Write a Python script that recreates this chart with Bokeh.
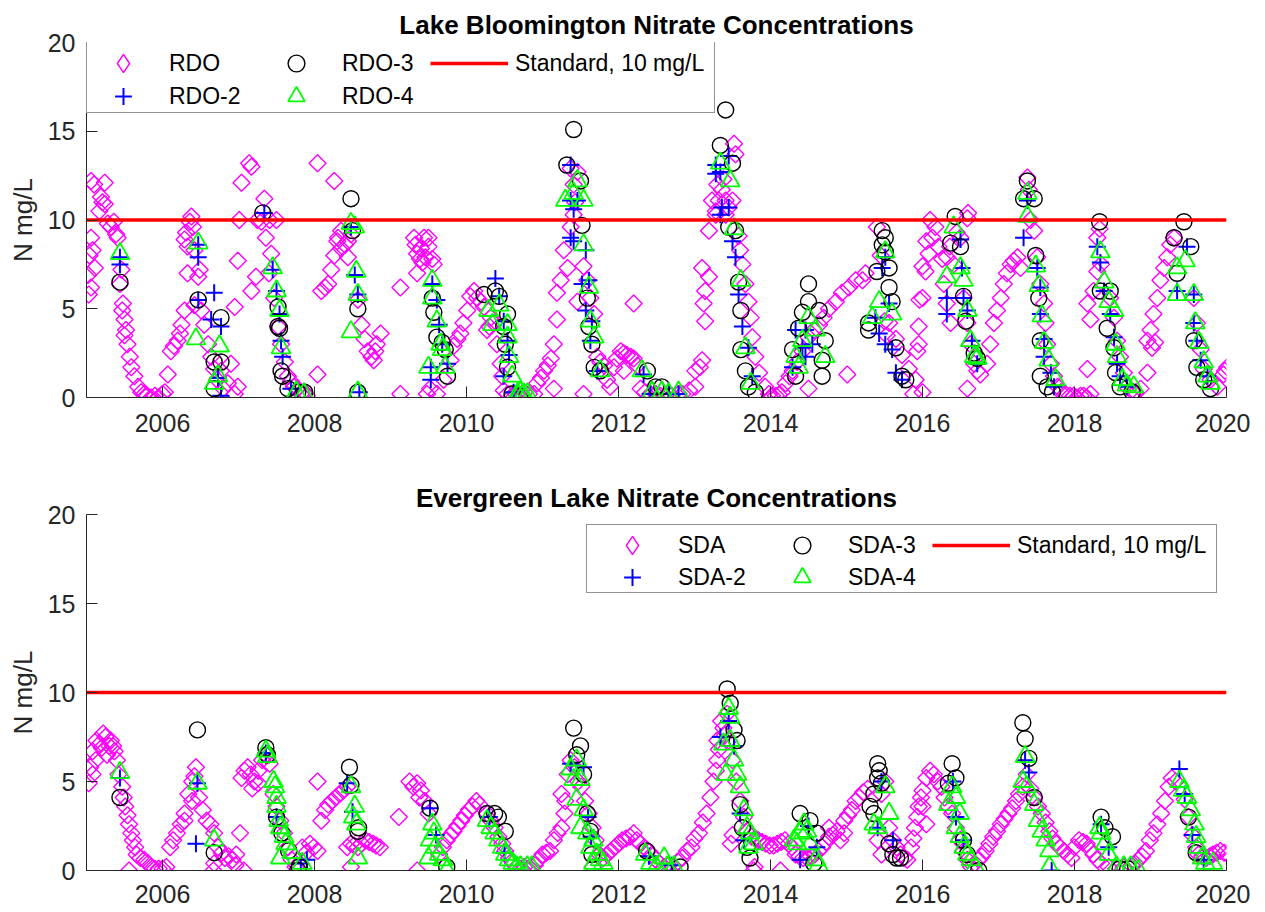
import math
from bokeh.plotting import figure
from bokeh.layouts import column
from bokeh.models import Range1d, FixedTicker, Legend, LegendItem
from bokeh.embed import file_html
from bokeh.resources import INLINE

# ---------------- data ----------------
years_range = (2005.0, 2020.0)
n_range = (0, 20)
year_ticks = [2006, 2008, 2010, 2012, 2014, 2016, 2018, 2020]
year_labels = ["2006", "2008", "2010", "2012", "2014", "2016", "2018", "2020"]
n_ticks = [0, 5, 10, 15, 20]
standard_value = 10
standard_label = "Standard, 10 mg/L"
y_label = "N mg/L"

top_title = "Lake Bloomington Nitrate Concentrations"
bottom_title = "Evergreen Lake Nitrate Concentrations"
top_names = ["RDO", "RDO-2", "RDO-3", "RDO-4"]
bottom_names = ["SDA", "SDA-2", "SDA-3", "SDA-4"]

# Lake Bloomington (year, N mg/L)
rdo = [
    (2005.02, 6.9), (2005.04, 8.0), (2005.06, 12.2), (2005.06, 9.0), (2005.08, 8.3), (2005.11, 7.3),
    (2005.06, 6.2), (2005.03, 5.8), (2005.10, 12.0), (2005.19, 11.3), (2005.24, 12.1), (2005.24, 10.9),
    (2005.17, 10.5), (2005.21, 11.0), (2005.28, 9.8), (2005.32, 9.6), (2005.36, 9.9), (2005.39, 9.2),
    (2005.41, 9.0), (2005.44, 6.4), (2005.46, 7.2), (2005.47, 4.9), (2005.48, 5.3), (2005.50, 4.4),
    (2005.50, 3.5), (2005.52, 3.8), (2005.54, 3.0), (2005.57, 2.3), (2005.59, 1.7), (2005.63, 1.2),
    (2005.68, 0.6), (2005.72, 0.3), (2005.76, 0.2), (2005.80, 0.1), (2005.85, 0.0), (2005.90, 0.1),
    (2005.95, 0.0), (2006.00, 0.2), (2006.03, 0.3),
    (2006.07, 1.3), (2006.11, 2.6), (2006.15, 2.9), (2006.20, 3.2), (2006.23, 3.6), (2006.25, 4.1),
    (2006.29, 4.9), (2006.33, 7.0), (2006.29, 8.9), (2006.31, 9.3), (2006.38, 10.2), (2006.40, 9.6),
    (2006.36, 9.9), (2006.33, 8.5), (2006.42, 8.3), (2006.49, 7.2), (2006.47, 6.8), (2006.42, 5.2),
    (2006.51, 4.9), (2006.55, 4.1), (2006.60, 3.0), (2006.64, 2.3), (2006.68, 1.6), (2006.77, 1.5),
    (2006.90, 1.9), (2006.86, 0.8), (2006.95, 0.2), (2006.99, 0.6), (2006.72, 1.0), (2006.80, 0.5),
    (2006.95, 5.1), (2006.99, 7.7), (2007.01, 10.0), (2007.04, 12.1), (2007.14, 13.2), (2007.17, 13.0),
    (2007.17, 6.0), (2007.23, 6.8),
    (2007.34, 11.2), (2007.25, 10.0), (2007.30, 9.9), (2007.41, 10.0), (2007.50, 10.0), (2007.36, 9.0),
    (2007.43, 8.1), (2007.40, 7.0), (2007.47, 5.6), (2007.52, 4.0), (2007.56, 3.0), (2007.61, 2.0),
    (2007.65, 1.2), (2007.69, 0.9), (2007.73, 0.6), (2007.78, 0.5), (2007.82, 0.2), (2007.87, 0.3),
    (2007.90, 0.1), (2008.04, 13.2), (2008.26, 12.2), (2008.04, 1.3),
    (2008.09, 6.0), (2008.14, 6.2), (2008.18, 6.4), (2008.22, 7.2), (2008.26, 8.0), (2008.31, 9.0),
    (2008.35, 9.4), (2008.40, 8.6), (2008.44, 8.8), (2008.48, 9.2), (2008.35, 8.4), (2008.44, 7.9),
    (2008.30, 8.8), (2008.57, 5.5), (2008.62, 4.1), (2008.66, 3.3), (2008.70, 2.6), (2008.75, 2.3),
    (2008.78, 2.1), (2008.82, 3.0), (2008.87, 3.6), (2008.80, 2.6),
    (2009.13, 6.2), (2009.13, 0.2), (2009.31, 9.0), (2009.44, 9.0), (2009.50, 9.0), (2009.35, 8.1),
    (2009.39, 7.8), (2009.46, 7.9), (2009.35, 7.0), (2009.50, 8.5), (2009.55, 7.8), (2009.57, 7.5),
    (2009.40, 8.4), (2009.42, 7.6), (2009.33, 8.6), (2009.48, 0.2), (2009.61, 0.2), (2009.52, 0.5),
    (2009.70, 1.0), (2009.79, 2.1), (2009.83, 2.9), (2009.88, 3.3), (2009.92, 3.6), (2009.96, 4.2),
    (2010.01, 4.9), (2010.05, 5.7), (2010.10, 6.0), (2010.14, 5.6),
    (2010.23, 5.1), (2010.32, 4.5), (2010.27, 3.8), (2010.30, 4.0), (2010.40, 3.0), (2010.36, 4.2),
    (2010.19, 5.4), (2010.45, 1.9), (2010.47, 1.2), (2010.49, 0.4), (2010.54, 0.2), (2010.60, 0.1),
    (2010.65, 0.2), (2010.70, 0.1), (2010.76, 0.3), (2010.82, 0.2), (2010.89, 0.2),
    (2010.93, 0.8), (2010.98, 1.1), (2011.02, 1.5), (2011.07, 1.8), (2011.11, 2.2), (2011.15, 3.0),
    (2011.19, 4.4), (2011.19, 5.9), (2011.24, 6.6), (2011.33, 7.3), (2011.28, 8.3), (2011.37, 9.6),
    (2011.41, 10.3), (2011.37, 12.9), (2011.46, 12.7), (2011.41, 12.0), (2011.43, 11.0),
    (2011.54, 7.4), (2011.59, 6.6), (2011.46, 5.4), (2011.63, 5.6), (2011.68, 4.7), (2011.15, 0.5),
    (2011.54, 0.2), (2011.72, 2.3), (2011.76, 2.0), (2011.81, 1.8), (2011.85, 1.0), (2011.89, 0.6),
    (2012.20, 5.3), (2011.98, 2.2), (2012.03, 2.6), (2012.07, 2.5), (2012.11, 2.4), (2012.16, 2.3),
    (2012.20, 2.2), (2012.25, 1.8), (2012.07, 1.5), (2011.94, 1.7),
    (2012.29, 0.5), (2012.35, 0.3), (2012.42, 0.2), (2012.49, 0.2), (2012.55, 0.1), (2012.62, 0.1),
    (2012.70, 0.1), (2012.79, 0.2), (2012.84, 0.2), (2012.93, 0.4), (2013.01, 0.6),
    (2013.01, 1.5), (2013.07, 1.7), (2013.10, 2.1), (2013.10, 7.3), (2013.19, 6.8), (2013.12, 5.3),
    (2013.14, 4.3), (2013.14, 6.0), (2013.19, 9.4), (2013.23, 11.1), (2013.28, 10.5), (2013.32, 11.1),
    (2013.36, 11.7), (2013.41, 11.1), (2013.45, 10.7), (2013.50, 11.1), (2013.52, 14.3), (2013.54, 13.7),
    (2013.41, 10.3), (2013.28, 10.3), (2013.38, 12.3), (2013.30, 12.0),
    (2013.58, 9.1), (2013.60, 8.3), (2013.63, 7.5), (2013.67, 6.4), (2013.71, 5.4), (2013.74, 4.5),
    (2013.76, 3.4), (2013.80, 2.3), (2013.85, 1.4), (2013.93, 0.6), (2013.98, 0.2), (2014.02, 0.1),
    (2014.07, 0.1), (2014.11, 0.15), (2014.15, 0.3),
    (2014.20, 0.8), (2014.25, 1.2), (2014.29, 1.5), (2014.35, 2.0), (2014.42, 2.6), (2014.50, 3.4),
    (2014.57, 3.8), (2014.64, 4.1), (2014.70, 4.5), (2014.77, 5.0), (2014.86, 5.4), (2014.94, 5.9),
    (2015.03, 6.2), (2015.12, 6.6), (2015.21, 6.6), (2015.25, 7.0), (2014.50, 0.5), (2015.01, 1.3),
    (2015.40, 9.6), (2015.45, 8.0), (2015.50, 4.3), (2015.53, 3.5), (2015.56, 4.2), (2015.65, 3.3),
    (2015.73, 2.4), (2015.82, 1.6), (2015.88, 0.2), (2015.91, 1.0), (2016.00, 0.3),
    (2015.93, 2.6), (2015.95, 4.0), (2015.96, 5.5), (2015.95, 3.0),
    (2016.00, 5.6), (2016.04, 7.1), (2016.08, 8.1), (2016.13, 9.0), (2016.17, 9.6), (2016.21, 8.5),
    (2016.26, 7.8), (2016.00, 7.4), (2016.10, 10.0), (2016.05, 8.8),
    (2016.59, 10.1), (2016.50, 9.0), (2016.32, 7.9), (2016.41, 7.5), (2016.28, 6.4), (2016.32, 5.3),
    (2016.37, 4.2), (2016.45, 9.3), (2016.36, 8.5), (2016.60, 10.4),
    (2016.54, 5.6), (2016.59, 4.2), (2016.63, 3.0), (2016.68, 1.9), (2016.72, 1.5), (2016.76, 1.3),
    (2016.59, 0.5),
    (2016.85, 1.9), (2016.89, 3.0), (2016.94, 4.2), (2016.98, 4.9), (2017.03, 5.6), (2017.07, 6.4),
    (2017.11, 7.0), (2017.16, 7.5), (2017.20, 7.7), (2017.25, 7.9), (2017.29, 7.3),
    (2017.38, 12.4), (2017.40, 11.7), (2017.42, 10.0), (2017.47, 9.4),
    (2017.51, 7.9), (2017.55, 6.4), (2017.60, 5.3), (2017.62, 4.2), (2017.64, 3.0), (2017.69, 1.9),
    (2017.73, 1.2), (2017.78, 0.6), (2017.82, 0.3), (2017.88, 0.2), (2017.94, 0.1), (2017.99, 0.1),
    (2018.03, 0.0), (2018.08, 0.1), (2018.12, 0.1), (2018.16, 0.0), (2018.21, 0.2), (2018.17, 1.6),
    (2018.21, 4.4), (2018.17, 5.3), (2018.25, 6.0), (2018.30, 7.1), (2018.30, 9.0), (2018.33, 9.5),
    (2018.35, 7.5), (2018.47, 5.6), (2018.52, 4.5), (2018.56, 3.2), (2018.60, 2.3), (2018.65, 1.4),
    (2018.69, 0.6), (2018.75, 0.4), (2018.80, 0.3), (2018.87, 0.5), (2018.96, 1.4),
    (2018.96, 3.2), (2019.00, 3.8), (2019.04, 4.7), (2019.09, 5.6), (2019.13, 6.6), (2019.18, 7.3),
    (2019.22, 7.9), (2019.26, 8.6), (2019.31, 9.0), (2019.02, 2.8), (2019.06, 3.1),
    (2019.57, 5.6), (2019.61, 4.2), (2019.66, 2.7), (2019.70, 1.6), (2019.79, 1.0), (2019.88, 0.6),
    (2019.96, 1.3), (2020.01, 1.7), (2019.98, 1.5),
]

rdo2 = [
    (2005.44, 7.5), (2005.44, 7.9),
    (2006.47, 8.6), (2006.47, 7.9), (2006.47, 5.5), (2006.68, 5.9), (2006.64, 4.4), (2006.77, 4.0),
    (2006.73, 1.1), (2006.77, 0.1),
    (2007.34, 10.4), (2007.45, 7.2), (2007.50, 6.0), (2007.54, 4.7), (2007.56, 3.2), (2007.58, 2.3),
    (2007.69, 0.5),
    (2008.48, 9.6), (2008.53, 6.9), (2008.57, 5.8), (2008.59, 0.3),
    (2009.55, 6.4), (2009.61, 5.5), (2009.64, 4.1), (2009.68, 3.0), (2009.53, 1.7), (2009.53, 1.0),
    (2009.75, 1.9),
    (2010.38, 6.7), (2010.43, 5.7), (2010.49, 4.3), (2010.54, 3.2), (2010.56, 2.4), (2010.49, 1.2),
    (2010.62, 0.3),
    (2011.37, 13.1), (2011.37, 11.1), (2011.46, 11.1), (2011.41, 10.6), (2011.37, 9.0), (2011.41, 8.8),
    (2011.57, 8.3), (2011.61, 6.6), (2011.52, 6.4), (2011.57, 4.9), (2011.65, 4.3), (2011.63, 3.2),
    (2011.72, 1.5),
    (2012.33, 1.3), (2012.42, 0.2), (2012.66, 0.2), (2012.79, 0.2),
    (2013.28, 13.1), (2013.34, 12.7), (2013.45, 13.6), (2013.28, 12.6), (2013.36, 10.7), (2013.45, 10.7),
    (2013.34, 10.3), (2013.50, 8.8), (2013.54, 7.9), (2013.58, 5.8), (2013.63, 4.0), (2013.71, 2.8),
    (2013.76, 1.2),
    (2014.33, 3.8), (2014.42, 2.8), (2014.46, 2.3), (2014.46, 3.8), (2014.55, 3.0), (2014.29, 1.7),
    (2015.47, 7.3), (2015.51, 7.9), (2015.56, 5.3), (2015.43, 3.6), (2015.38, 4.5), (2015.51, 3.0),
    (2015.60, 2.7), (2015.65, 1.4), (2015.73, 1.0),
    (2016.32, 5.6), (2016.32, 4.7), (2016.50, 8.9), (2016.52, 7.3), (2016.54, 5.6), (2016.59, 4.9),
    (2016.65, 3.2), (2016.72, 1.9),
    (2017.38, 11.1), (2017.33, 9.0), (2017.51, 7.3), (2017.55, 6.2), (2017.55, 4.7), (2017.60, 3.3),
    (2017.60, 2.3), (2017.69, 1.4), (2017.73, 0.6),
    (2018.30, 8.5), (2018.34, 7.6), (2018.39, 6.0), (2018.47, 4.7), (2018.52, 3.4), (2018.56, 1.9),
    (2018.60, 1.2), (2018.69, 0.6),
    (2019.48, 8.5), (2019.35, 6.0), (2019.57, 5.8), (2019.57, 4.2), (2019.61, 3.2), (2019.66, 2.1),
    (2019.75, 1.2),
]

rdo3 = [
    (2005.44, 6.5),
    (2006.47, 5.5), (2006.77, 4.5), (2006.68, 2.0), (2006.77, 2.0), (2006.68, 0.5),
    (2007.32, 10.4), (2007.52, 5.1), (2007.52, 4.0), (2007.54, 3.9), (2007.56, 1.5), (2007.58, 1.2),
    (2007.65, 0.5), (2007.78, 0.3), (2007.87, 0.3),
    (2008.48, 11.2), (2008.50, 9.4), (2008.57, 5.0), (2008.57, 0.3),
    (2009.55, 5.6), (2009.57, 4.8), (2009.61, 3.4), (2009.68, 3.1), (2009.72, 2.7), (2009.75, 1.2),
    (2010.23, 5.8), (2010.38, 6.0), (2010.43, 5.7), (2010.54, 4.7), (2010.49, 4.0), (2010.51, 3.0),
    (2010.54, 1.7), (2010.60, 0.2), (2010.70, 0.1),
    (2011.32, 13.1), (2011.41, 15.1), (2011.50, 12.2), (2011.52, 9.7), (2011.59, 5.6), (2011.61, 4.0),
    (2011.65, 3.0), (2011.68, 1.7), (2011.76, 1.5),
    (2012.38, 1.5), (2012.49, 0.6), (2012.57, 0.6),
    (2013.41, 16.2), (2013.34, 14.2), (2013.50, 13.2), (2013.45, 9.6), (2013.54, 9.4), (2013.58, 6.5),
    (2013.61, 4.9), (2013.61, 2.7), (2013.67, 1.5), (2013.71, 0.6), (2013.80, 0.3),
    (2014.50, 6.4), (2014.50, 5.4), (2014.42, 4.8), (2014.37, 3.9), (2014.29, 2.7), (2014.33, 1.2),
    (2014.64, 4.9), (2014.72, 3.2), (2014.68, 2.1), (2014.68, 1.2),
    (2015.47, 9.4), (2015.51, 9.0), (2015.47, 8.6), (2015.51, 8.2), (2015.56, 7.3), (2015.40, 7.1),
    (2015.56, 6.2), (2015.60, 5.4), (2015.29, 4.2), (2015.29, 3.8), (2015.65, 2.8), (2015.73, 1.2),
    (2015.78, 1.0),
    (2016.43, 10.2), (2016.37, 8.7), (2016.50, 8.5), (2016.54, 5.7), (2016.57, 4.3), (2016.68, 2.5),
    (2016.72, 2.2),
    (2017.38, 12.2), (2017.33, 11.2), (2017.47, 11.2), (2017.49, 8.0), (2017.53, 5.6), (2017.55, 3.2),
    (2017.55, 1.2), (2017.64, 0.6), (2017.71, 0.3),
    (2018.33, 9.9), (2018.34, 6.0), (2018.47, 6.0), (2018.43, 3.9), (2018.52, 2.8), (2018.54, 1.4),
    (2018.60, 0.6), (2018.76, 0.3),
    (2019.44, 9.9), (2019.31, 9.0), (2019.53, 8.5), (2019.35, 7.0), (2019.57, 3.2), (2019.61, 1.7),
    (2019.70, 1.0), (2019.79, 0.5),
]

rdo4 = [
    (2005.44, 8.1),
    (2006.47, 8.7), (2006.44, 3.3), (2006.75, 2.9), (2006.73, 1.2), (2006.68, 0.8),
    (2007.45, 7.3), (2007.50, 6.0), (2007.54, 4.9), (2007.56, 2.8), (2007.76, 0.3), (2007.86, 0.2),
    (2008.48, 9.8), (2008.53, 9.6), (2008.55, 7.1), (2008.57, 5.8), (2008.48, 3.7), (2008.57, 0.3),
    (2009.55, 6.6), (2009.55, 5.6), (2009.61, 4.3), (2009.66, 3.0), (2009.50, 1.7), (2009.72, 1.7),
    (2009.68, 2.7),
    (2010.29, 4.9), (2010.43, 5.2), (2010.34, 4.1), (2010.54, 4.1), (2010.54, 3.4), (2010.56, 2.3),
    (2010.60, 1.2), (2010.67, 0.2), (2010.75, 0.2), (2010.80, 0.2), (2010.71, 0.3),
    (2011.46, 12.2), (2011.41, 11.5), (2011.30, 11.1), (2011.54, 11.1), (2011.54, 8.6), (2011.61, 6.2),
    (2011.63, 4.3), (2011.68, 3.4), (2011.76, 1.5),
    (2012.31, 1.5), (2012.44, 0.3), (2012.57, 0.3), (2012.66, 0.2), (2012.79, 0.3),
    (2013.34, 13.2), (2013.47, 12.2), (2013.52, 9.5), (2013.61, 6.6), (2013.67, 2.8), (2013.74, 0.8),
    (2014.50, 4.5), (2014.42, 3.2), (2014.33, 2.3), (2014.37, 1.7), (2014.59, 3.8), (2014.72, 2.3),
    (2015.51, 8.2), (2015.43, 5.4), (2015.34, 4.5), (2015.60, 4.7),
    (2016.41, 9.6), (2016.50, 7.3), (2016.32, 6.8), (2016.54, 6.6), (2016.59, 4.9), (2016.63, 3.2),
    (2016.68, 2.3), (2016.72, 2.2),
    (2017.38, 11.5), (2017.38, 10.2), (2017.49, 7.4), (2017.53, 6.3), (2017.57, 4.6), (2017.60, 3.1),
    (2017.66, 2.1), (2017.75, 1.0),
    (2018.34, 8.2), (2018.39, 6.5), (2018.45, 5.4), (2018.52, 4.9), (2018.54, 3.0), (2018.56, 2.3),
    (2018.63, 1.0), (2018.69, 0.7), (2018.78, 0.6),
    (2019.46, 7.7), (2019.35, 7.3), (2019.35, 5.8), (2019.57, 5.8), (2019.59, 4.2), (2019.64, 3.1),
    (2019.70, 2.0), (2019.75, 1.2), (2019.79, 0.8),
]

# Evergreen Lake (year, N mg/L)
sda = [
    (2005.03, 4.9), (2005.05, 5.8), (2005.08, 6.7), (2005.13, 7.3), (2005.17, 7.1), (2005.22, 7.7),
    (2005.27, 6.5), (2005.32, 7.3), (2005.37, 6.7), (2005.08, 5.4), (2005.12, 6.2), (2005.20, 6.9),
    (2005.25, 7.5), (2005.30, 7.0), (2005.35, 7.0), (2005.40, 6.2), (2005.42, 5.4),
    (2005.47, 4.7), (2005.49, 4.1), (2005.51, 3.6), (2005.54, 3.1), (2005.56, 2.6), (2005.59, 2.1),
    (2005.61, 1.7), (2005.64, 1.3), (2005.66, 0.9), (2005.71, 0.7), (2005.76, 0.6), (2005.56, 0.0),
    (2005.81, 0.4), (2005.85, 0.2), (2005.90, 0.1), (2005.95, 0.1), (2006.00, 0.1), (2006.05, 0.2),
    (2006.10, 1.3), (2006.14, 1.7), (2006.19, 2.1), (2006.24, 2.6), (2006.29, 3.2), (2006.29, 2.8),
    (2006.34, 4.3), (2006.39, 5.0), (2006.39, 3.9), (2006.44, 5.8), (2006.42, 5.3),
    (2006.48, 4.1), (2006.53, 3.4), (2006.58, 2.8), (2006.63, 2.6), (2006.68, 2.1), (2006.73, 1.3),
    (2006.78, 1.0), (2006.82, 0.7), (2006.87, 0.8), (2006.92, 0.6), (2006.97, 0.9), (2007.02, 2.1),
    (2006.68, 0.4), (2006.67, 0.0), (2007.07, 0.0), (2006.96, 0.3),
    (2007.04, 5.2), (2007.08, 5.6), (2007.12, 5.8), (2007.16, 5.4), (2007.21, 5.0), (2007.26, 5.6),
    (2007.31, 6.2), (2007.36, 6.5), (2007.41, 6.0), (2007.26, 4.9), (2007.18, 4.6),
    (2007.46, 4.3), (2007.50, 3.6), (2007.55, 2.8), (2007.60, 2.1), (2007.65, 1.3), (2007.70, 0.6),
    (2007.75, 0.2), (2007.84, 1.3), (2007.94, 1.5), (2008.04, 1.1), (2007.89, 1.0), (2007.99, 1.3),
    (2008.04, 5.0),
    (2008.09, 2.8), (2008.14, 3.4), (2008.18, 3.7), (2008.23, 3.9), (2008.28, 4.1), (2008.33, 4.3),
    (2008.38, 4.5), (2008.43, 4.7),
    (2008.43, 1.3), (2008.48, 1.5), (2008.52, 1.4), (2008.57, 1.3), (2008.62, 1.5), (2008.67, 1.7),
    (2008.72, 1.6), (2008.77, 1.5), (2008.81, 1.4), (2008.86, 1.3), (2008.48, 0.2),
    (2009.11, 3.0),
    (2009.25, 5.0), (2009.30, 4.7), (2009.35, 4.9), (2009.40, 4.5), (2009.45, 3.9), (2009.50, 3.2),
    (2009.38, 4.1), (2009.35, 0.0),
    (2009.64, 0.9), (2009.69, 1.3), (2009.74, 1.7), (2009.79, 2.0), (2009.83, 2.2), (2009.88, 2.5),
    (2009.93, 2.8), (2009.98, 3.1), (2010.03, 3.4), (2010.08, 3.6), (2010.13, 3.9), (2010.17, 3.7),
    (2010.27, 3.2), (2010.32, 2.8), (2010.37, 2.4), (2010.42, 1.9), (2010.47, 1.5), (2010.51, 1.1),
    (2010.56, 0.7), (2010.61, 0.4), (2010.66, 0.2), (2010.71, 0.1), (2010.76, 0.2), (2010.81, 0.1),
    (2010.86, 0.2), (2010.90, 0.3),
    (2010.95, 0.6), (2011.00, 0.9), (2011.05, 1.0), (2011.10, 1.1), (2011.15, 1.7), (2011.20, 2.1),
    (2011.25, 2.4), (2011.29, 3.2), (2011.25, 4.3), (2011.30, 3.9),
    (2011.37, 6.2), (2011.42, 5.8), (2011.47, 5.0), (2011.51, 4.7), (2011.56, 3.9), (2011.61, 3.2),
    (2011.66, 2.4), (2011.70, 1.7), (2011.75, 0.9), (2011.66, 0.2), (2011.33, 5.4),
    (2011.80, 0.7), (2011.85, 0.9), (2011.90, 1.1), (2011.95, 1.3), (2012.00, 1.5), (2012.05, 1.7),
    (2012.10, 1.8), (2012.15, 1.9), (2012.20, 2.1), (2012.24, 1.7), (2012.29, 1.5), (2012.34, 1.3),
    (2012.39, 1.1), (2012.44, 0.9), (2012.49, 0.6),
    (2012.54, 0.4), (2012.60, 0.2), (2012.66, 0.3), (2012.72, 0.2), (2012.78, 0.5), (2012.84, 0.7),
    (2012.90, 1.1),
    (2012.96, 1.3), (2013.00, 1.8), (2013.06, 2.1), (2013.11, 2.7), (2013.16, 3.2), (2013.21, 4.1),
    (2013.25, 5.0), (2013.28, 5.6), (2013.30, 6.2), (2013.32, 6.8), (2013.30, 7.3), (2013.35, 8.4),
    (2013.38, 8.0), (2013.43, 8.8), (2013.40, 7.6),
    (2013.45, 7.3), (2013.50, 6.2), (2013.55, 5.0), (2013.60, 3.9), (2013.65, 3.0), (2013.70, 2.2),
    (2013.75, 1.9), (2013.80, 1.8), (2013.84, 1.7), (2013.89, 1.6), (2013.94, 1.5), (2013.99, 1.4),
    (2014.04, 1.4), (2014.09, 1.5), (2014.14, 1.6), (2014.19, 1.7), (2013.79, 0.2), (2013.50, 2.0),
    (2013.48, 1.5), (2013.78, 0.0), (2014.13, 0.0),
    (2014.24, 1.5), (2014.28, 1.3), (2014.33, 0.9), (2014.38, 0.8), (2014.43, 0.7), (2014.48, 0.7),
    (2014.53, 0.8), (2014.58, 0.9), (2014.63, 1.1), (2014.68, 1.3), (2014.73, 1.6), (2014.77, 1.9),
    (2014.82, 2.0), (2014.87, 2.2), (2014.92, 1.7), (2014.97, 2.8), (2015.02, 3.1), (2015.07, 3.4),
    (2015.12, 3.9), (2015.17, 4.1), (2014.97, 2.1), (2014.77, 2.4),
    (2015.22, 4.4), (2015.28, 4.6), (2015.46, 4.3), (2015.51, 5.0),
    (2015.56, 2.4), (2015.61, 1.7), (2015.66, 1.3), (2015.71, 0.9), (2015.76, 0.7), (2015.80, 0.6),
    (2015.41, 1.7), (2015.46, 0.9),
    (2015.85, 1.3), (2015.88, 1.8), (2015.90, 2.4), (2015.93, 3.0), (2015.95, 3.6), (2015.98, 4.1),
    (2016.00, 4.5), (2016.05, 5.2), (2016.10, 5.6), (2016.15, 5.4), (2016.20, 5.0), (2016.25, 4.7),
    (2016.29, 4.1), (2016.05, 2.6), (2016.00, 3.6),
    (2016.34, 3.6), (2016.39, 3.2), (2016.44, 2.4), (2016.49, 1.7), (2016.54, 1.1), (2016.59, 0.6),
    (2016.64, 0.2),
    (2016.69, 0.4), (2016.74, 0.6), (2016.78, 0.8), (2016.83, 1.1), (2016.88, 1.5), (2016.93, 1.9),
    (2016.98, 2.2), (2017.03, 2.6), (2017.08, 2.9), (2017.13, 3.2), (2017.18, 3.5), (2017.23, 3.9),
    (2017.27, 4.3), (2017.32, 4.7), (2017.37, 5.4),
    (2017.42, 4.6), (2017.47, 4.1), (2017.52, 3.6), (2017.57, 3.2), (2017.62, 2.7), (2017.67, 2.2),
    (2017.71, 1.8), (2017.76, 1.5), (2017.81, 1.3), (2017.86, 1.1), (2017.91, 0.9), (2017.96, 0.7),
    (2018.00, 1.3), (2018.06, 1.7), (2018.11, 1.6), (2018.16, 1.5), (2018.20, 1.2), (2018.25, 0.9),
    (2018.30, 0.6), (2018.35, 0.4), (2018.45, 0.2), (2018.55, 0.1), (2018.65, 0.2), (2018.75, 0.3),
    (2018.80, 0.4),
    (2018.84, 0.6), (2018.89, 0.8), (2018.94, 1.1), (2018.99, 1.7), (2019.04, 2.1), (2019.09, 2.6),
    (2019.14, 3.2), (2019.19, 3.9), (2019.24, 4.7), (2019.28, 5.2), (2019.33, 5.0),
    (2019.45, 4.0), (2019.50, 3.0), (2019.55, 2.0), (2019.60, 1.3), (2019.63, 0.9), (2019.68, 0.8),
    (2019.73, 0.7), (2019.78, 0.8), (2019.82, 0.9), (2019.87, 1.0), (2019.92, 1.1), (2019.97, 1.0),
    (2020.02, 0.9),
]

sda2 = [
    (2005.44, 5.2), (2006.46, 4.9), (2006.44, 1.5), (2007.36, 6.6), (2007.50, 3.0), (2007.82, 0.4),
    (2007.90, 0.6), (2008.43, 4.9), (2008.50, 3.3), (2009.52, 3.5), (2009.60, 2.0), (2010.30, 3.0),
    (2010.50, 1.0), (2011.37, 6.0), (2011.54, 5.8), (2011.60, 3.0), (2011.64, 1.9), (2012.40, 0.8),
    (2012.70, 0.3), (2013.34, 7.5), (2013.45, 8.4), (2013.52, 7.0), (2013.60, 3.2), (2013.65, 1.7),
    (2014.39, 0.6), (2014.61, 1.3), (2014.50, 2.5), (2015.46, 5.0), (2015.41, 2.4), (2015.61, 1.7),
    (2016.44, 3.0), (2016.54, 1.7), (2016.40, 5.0), (2017.35, 6.2), (2017.40, 5.5), (2017.70, 0.0),
    (2018.35, 2.6), (2018.45, 1.3), (2019.38, 5.7), (2019.45, 4.3), (2019.55, 2.0), (2019.70, 0.6),
]

sda3 = [
    (2005.44, 4.1), (2006.46, 7.9), (2006.68, 1.0), (2007.36, 6.9), (2007.38, 6.5), (2007.50, 3.0),
    (2007.57, 2.1), (2007.66, 1.1), (2007.78, 0.0), (2007.80, 0.2), (2008.46, 5.8), (2008.48, 4.8),
    (2008.57, 2.2), (2008.58, 2.4), (2009.52, 3.5), (2009.74, 0.2), (2010.27, 3.2), (2010.37, 3.2),
    (2010.42, 3.0), (2010.51, 2.2), (2011.41, 8.0), (2011.50, 7.0), (2011.45, 6.5), (2011.54, 5.4),
    (2011.59, 3.2), (2011.63, 2.2), (2011.65, 0.9), (2012.37, 1.1), (2012.81, 0.2), (2013.43, 10.2),
    (2013.47, 9.4), (2013.52, 7.9), (2013.56, 7.3), (2013.60, 3.7), (2013.63, 2.4), (2013.69, 1.3),
    (2013.73, 0.7), (2014.39, 3.2), (2014.52, 2.8), (2014.61, 2.1), (2014.57, 0.4), (2015.41, 6.0),
    (2015.43, 5.6), (2015.41, 5.2), (2015.36, 4.3), (2015.31, 3.6), (2015.36, 3.2), (2015.46, 4.9),
    (2015.56, 1.5), (2015.61, 0.9), (2015.66, 0.7), (2015.71, 0.7), (2016.39, 6.0), (2016.44, 5.2),
    (2016.34, 4.9), (2016.54, 1.7), (2016.59, 0.9), (2016.74, 0.0), (2017.32, 8.3), (2017.35, 7.4),
    (2017.40, 6.3), (2017.47, 4.1), (2018.35, 3.0), (2018.40, 2.4), (2018.50, 1.9), (2018.60, 0.1),
    (2018.70, 0.1), (2019.50, 3.0), (2019.60, 1.0),
]

sda4 = [
    (2005.44, 5.5), (2006.46, 4.9), (2006.68, 1.7), (2007.36, 6.7), (2007.38, 6.4), (2007.46, 5.0),
    (2007.48, 4.7), (2007.50, 4.1), (2007.50, 3.6), (2007.53, 2.8), (2007.55, 2.4), (2007.60, 1.9),
    (2007.62, 1.5), (2007.55, 0.7), (2007.84, 0.4), (2007.70, 1.0),
    (2008.48, 4.7), (2008.53, 3.6), (2008.51, 3.0), (2008.55, 2.6), (2008.57, 0.7),
    (2009.55, 2.6), (2009.57, 2.1), (2009.52, 1.7), (2009.59, 1.3), (2009.64, 0.9), (2009.50, 0.7),
    (2009.74, 0.0), (2009.69, 0.6),
    (2010.27, 2.8), (2010.32, 2.4), (2010.37, 2.1), (2010.42, 1.7), (2010.47, 1.3), (2010.51, 0.9),
    (2010.56, 0.6), (2010.61, 0.4), (2010.66, 0.2), (2010.71, 0.2), (2010.80, 0.2), (2010.86, 0.2),
    (2011.45, 6.2), (2011.37, 5.7), (2011.41, 5.1), (2011.50, 5.1), (2011.45, 4.0), (2011.54, 3.4),
    (2011.50, 2.4), (2011.59, 2.1), (2011.67, 1.7), (2011.63, 1.3), (2011.72, 0.9), (2011.76, 0.6),
    (2011.80, 0.4), (2011.67, 0.4),
    (2012.35, 0.9), (2012.42, 0.4), (2012.60, 0.7), (2012.64, 0.2), (2012.73, 0.2), (2012.50, 0.2),
    (2013.45, 9.1), (2013.47, 8.6), (2013.38, 7.1), (2013.47, 7.3), (2013.52, 6.2), (2013.41, 5.4),
    (2013.56, 5.4), (2013.60, 4.7), (2013.65, 3.4), (2013.69, 2.4), (2013.73, 2.1), (2013.78, 1.5),
    (2013.71, 1.3),
    (2014.31, 1.7), (2014.39, 2.1), (2014.48, 2.2), (2014.44, 2.6), (2014.35, 1.5), (2014.52, 1.5),
    (2014.60, 0.6), (2014.63, 0.3),
    (2015.51, 4.7), (2015.56, 3.2), (2015.36, 2.6), (2015.41, 2.4),
    (2016.39, 4.7), (2016.44, 4.1), (2016.34, 3.7), (2016.49, 3.2), (2016.44, 2.4), (2016.49, 1.9),
    (2016.54, 1.3), (2016.59, 0.9), (2016.64, 0.6), (2016.69, 0.2),
    (2017.35, 6.4), (2017.32, 5.0), (2017.37, 4.7), (2017.47, 3.7), (2017.52, 2.8), (2017.57, 2.2),
    (2017.62, 1.7), (2017.67, 1.1), (2017.67, 0.2),
    (2018.33, 2.4), (2018.35, 2.1), (2018.40, 1.5), (2018.45, 0.9), (2018.55, 0.2), (2018.65, 0.2),
    (2018.74, 0.2), (2018.84, 0.0),
    (2019.38, 5.0), (2019.43, 4.5), (2019.48, 4.1), (2019.53, 3.4), (2019.58, 2.6), (2019.60, 1.9),
    (2019.63, 1.3), (2019.68, 0.7), (2019.72, 0.4), (2019.82, 0.4),
]

# ---------------- styling ----------------
FONT = "Liberation Sans"
AX = "#262626"
STYLES = [
    dict(marker="square", angle=math.pi / 4, size=12, color="#FF00FF", lw=1.4),
    dict(marker="cross", angle=0.0, size=17, color="#0000FF", lw=2.0),
    dict(marker="circle", angle=0.0, size=16, color="#000000", lw=1.4),
    dict(marker="triangle", angle=0.0, size=19, color="#00FF00", lw=1.8),
]


def make_panel(title, names, series, height, top, bottom, title_standoff, x_standoff, leg):
    p = figure(width=1250, height=height,
               x_range=Range1d(*years_range), y_range=Range1d(*n_range),
               output_backend="svg", toolbar_location=None,
               min_border_left=86, min_border_right=24,
               min_border_top=top, min_border_bottom=bottom)
    p.outline_line_color = None
    p.grid.visible = False
    p.background_fill_color = "white"
    p.border_fill_color = "white"

    p.title.text = title
    p.title.align = "center"
    p.title.text_font = FONT
    p.title.text_font_size = "26px"
    p.title.text_font_style = "bold"
    p.title.text_color = "black"
    p.title.standoff = title_standoff
    p.title.offset = 0

    xa, ya = p.xaxis[0], p.yaxis[0]
    xa.ticker = FixedTicker(ticks=year_ticks)
    xa.major_label_overrides = {t: l for t, l in zip(year_ticks, year_labels)}
    ya.ticker = FixedTicker(ticks=n_ticks)
    for ax in (xa, ya):
        ax.axis_line_color = AX
        ax.axis_line_width = 1
        ax.major_tick_line_color = AX
        ax.minor_tick_line_color = None
        ax.major_tick_in = 11
        ax.major_tick_out = 0
        ax.major_label_text_font = FONT
        ax.major_label_text_font_size = "25px"
        ax.major_label_text_color = AX
    xa.major_label_standoff = x_standoff
    ya.major_label_standoff = 11
    ya.axis_label = y_label
    ya.axis_label_text_font = FONT
    ya.axis_label_text_font_size = "26px"
    ya.axis_label_text_font_style = "normal"
    ya.axis_label_text_color = AX
    ya.axis_label_standoff = 7

    data_rs = []
    for data, st in zip(series, STYLES):
        xs = [d[0] for d in data]
        ys = [d[1] for d in data]
        r = p.scatter(xs, ys, marker=st["marker"], angle=st["angle"], size=st["size"],
                      line_color=st["color"], fill_color=None, line_width=st["lw"])
        data_rs.append(r)
    std = p.line(list(years_range), [standard_value, standard_value],
                 line_color="#FF0000", line_width=3.5)
    blank = p.scatter(x=[], y=[], size=1, line_alpha=0, fill_alpha=0)

    # legend sample for the diamond series (legend glyphs ignore marker rotation)
    st0 = STYLES[0]
    diamond_r = p.scatter([d[0] for d in series[0]], [d[1] for d in series[0]],
                          marker="diamond", size=10, line_color=st0["color"],
                          fill_color=None, line_width=st0["lw"], visible=False)

    bx, by, bw, bh = leg["box"]
    box = Legend(items=[LegendItem(label=" ", renderers=[blank])], location=(bx, by),
                 glyph_width=bw - 20, glyph_height=bh, label_width=20, label_height=10,
                 label_standoff=0, padding=0, spacing=0, margin=0,
                 border_line_color=AX, border_line_width=1,
                 background_fill_color="white", background_fill_alpha=1.0,
                 label_text_font_size="10px")
    p.add_layout(box)

    c0, c1, c2 = leg["cols"]
    r0, r1 = leg["rows"]  # row centres, pixels above the frame bottom
    cells = [(names[0], diamond_r, 46, c0, r0), (names[1], data_rs[1], 42, c0, r1),
             (names[2], data_rs[2], 42, c1, r0), (names[3], data_rs[3], 42, c1, r1),
             (standard_label, std, 42, c2, r0)]
    for label, r, gh, vx, vc in cells:
        lg = Legend(items=[LegendItem(label=label, renderers=[r])], location=(vx, vc - gh // 2),
                    glyph_width=78, glyph_height=gh, label_standoff=7, label_height=23,
                    padding=0, spacing=0, margin=0,
                    border_line_alpha=0, background_fill_alpha=0,
                    inactive_fill_alpha=0,
                    label_text_font=FONT, label_text_font_size="23px",
                    label_text_color="black")
        p.add_layout(lg)
    return p


p1 = make_panel(top_title, top_names, [rdo, rdo2, rdo3, rdo4], height=446, top=42, bottom=49,
                title_standoff=5, x_standoff=16,
                leg=dict(box=(0, 284, 627, 70), cols=(-2, 171, 344), rows=(334, 301)))
p2 = make_panel(bottom_title, bottom_names, [sda, sda2, sda3, sda4], height=466, top=68, bottom=42,
                title_standoff=3, x_standoff=14,
                leg=dict(box=(500, 277, 629, 67), cols=(507, 677, 846), rows=(325, 293)))

layout = column(p1, p2, spacing=0)
with open("out.html", "w") as f:
    f.write(file_html(layout, INLINE, title="Nitrate Concentrations"))
